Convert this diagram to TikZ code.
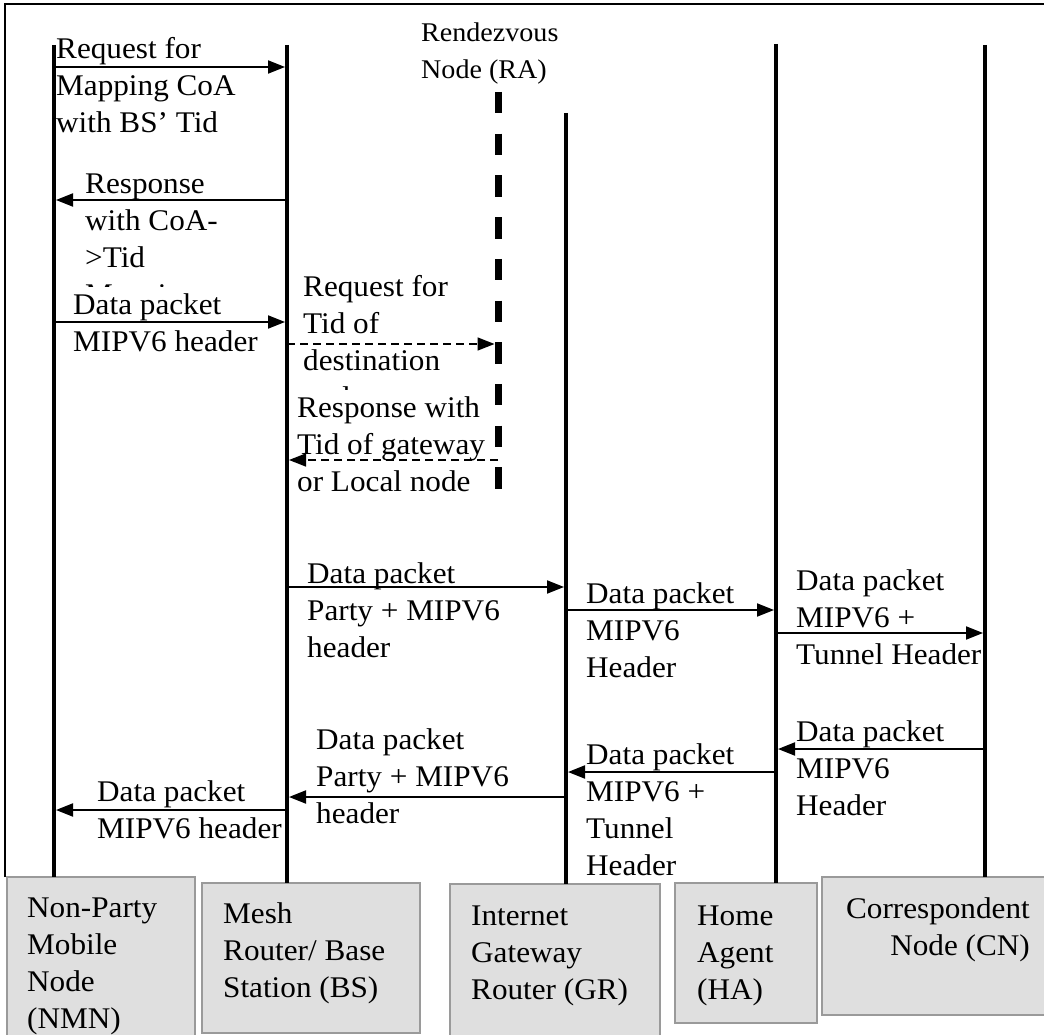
\documentclass[tikz,border=0pt]{standalone}
\usepackage{fontspec}
\setmainfont{Liberation Serif}[FakeStretch=1.04]
\usetikzlibrary{arrows.meta}
\definecolor{boxgray}{HTML}{DFDFDF}
\definecolor{boxedge}{HTML}{9A9A9A}
\newcommand\lblfont{\fontsize{30}{37}\selectfont}
\newcommand\rafont{\fontsize{27}{37}\selectfont}
\begin{document}
% Multi-line labels are placed by the baseline of their last line.
\begin{tikzpicture}[x=1pt,y=-1pt,
  life/.style={line width=4pt},
  ralife/.style={line width=7pt, dash pattern=on 21.5pt off 20.2pt},
  msg/.style={line width=2pt, shorten >=2pt, -{Triangle[length=17pt,width=13pt]}},
  dmsg/.style={msg, line width=1.5pt, dash pattern=on 8pt off 5pt},
  lbl/.style={anchor=base west, inner sep=0pt, align=left, font=\lblfont},
  ralbl/.style={lbl, font=\rafont},
  unitbox/.style={fill=boxgray, draw=boxedge, line width=2pt}]
\useasboundingbox (0,0) rectangle (1044,1035);

% outer frame
\draw[line width=1.5pt] (5,877) -- (5,4) -- (1044,4);

% entity boxes
\path[unitbox] (7,877) rectangle (195,1045);
\path[unitbox] (202,883) rectangle (420,1033);
\path[unitbox] (450,884) rectangle (660,1045);
\path[unitbox] (675,883) rectangle (817,1023);
\path[unitbox] (822,877) rectangle (1054,1015);
\node[lbl] (nmnbox) at (27,1028) {Non-Party\\Mobile\\Node\\(NMN)};
\node[lbl] (bsbox) at (223,997) {Mesh\\Router/ Base\\Station (BS)};
\node[lbl] (grbox) at (471,999) {Internet\\Gateway\\Router (GR)};
\node[lbl] (habox) at (697,999) {Home\\Agent\\(HA)};
\node[lbl, anchor=base east, align=right] (cnbox) at (1030,955) {Correspondent\\Node (CN)};

% lifeline end points
\coordinate (nmnT) at (54,45);   \coordinate (nmnB) at (54,877);
\coordinate (bsT)  at (287,45);  \coordinate (bsB)  at (287,883);
\coordinate (raT)  at (498,92);  \coordinate (raB)  at (498,489);
\coordinate (grT)  at (566,113); \coordinate (grB)  at (566,884);
\coordinate (haT)  at (776,44);  \coordinate (haB)  at (776,883);
\coordinate (cnT)  at (985,45);  \coordinate (cnB)  at (985,877);

\node[ralbl] (ralabel) at (421,79) {Rendezvous\\Node (RA)};

% message labels
\node[lbl] (m1) at (56,133) {Request for\\Mapping CoA\\with BS’ Tid};
\begin{scope}
  \clip (60,160) rectangle (280,286);
  \node[lbl] (m2) at (85,304) {Response\\with CoA-\\>Tid\\Mapping};
\end{scope}
\node[lbl] (m3) at (73,351) {Data packet\\MIPV6 header};
\begin{scope}
  \clip (295,260) rectangle (490,389);
  \node[lbl] (m4) at (303,407) {Request for\\Tid of\\destination\\node};
\end{scope}
\node[lbl] (m5) at (297,491) {Response with\\Tid of gateway\\or Local node};
\node[lbl] (m6) at (307,657) {Data packet\\Party + MIPV6\\header};
\node[lbl] (m7) at (586,677) {Data packet\\MIPV6\\Header};
\node[lbl] (m8) at (796,664) {Data packet\\MIPV6 +\\Tunnel Header};
\node[lbl] (m9) at (796,815) {Data packet\\MIPV6\\Header};
\node[lbl] (m10) at (586,875) {Data packet\\MIPV6 +\\Tunnel\\Header};
\node[lbl] (m11) at (316,823) {Data packet\\Party + MIPV6\\header};
\node[lbl] (m12) at (97,838) {Data packet\\MIPV6 header};

% lifelines
\draw[life] (nmnT) -- (nmnB);
\draw[life] (bsT) -- (bsB);
\draw[life] (grT) -- (grB);
\draw[life] (haT) -- (haB);
\draw[life] (cnT) -- (cnB);
\draw[ralife] (raT) -- (raB);

% messages
\draw[msg]  (nmnT |- 0,67)  -- (bsT |- 0,67);
\draw[msg]  (bsT |- 0,200)  -- (nmnT |- 0,200);
\draw[msg]  (nmnT |- 0,322) -- (bsT |- 0,322);
\draw[dmsg, shorten >=3.5pt] (bsT |- 0,344) -- (raT |- 0,344);
\draw[dmsg] (raT |- 0,460)  -- (bsT |- 0,460);
\draw[msg]  (bsT |- 0,587)  -- (grT |- 0,587);
\draw[msg]  (grT |- 0,610)  -- (haT |- 0,610);
\draw[msg]  (haT |- 0,633)  -- (cnT |- 0,633);
\draw[msg]  (cnT |- 0,749)  -- (haT |- 0,749);
\draw[msg]  (haT |- 0,772)  -- (grT |- 0,772);
\draw[msg]  (grT |- 0,797)  -- (bsT |- 0,797);
\draw[msg]  (bsT |- 0,810)  -- (nmnT |- 0,810);
\end{tikzpicture}
\end{document}
